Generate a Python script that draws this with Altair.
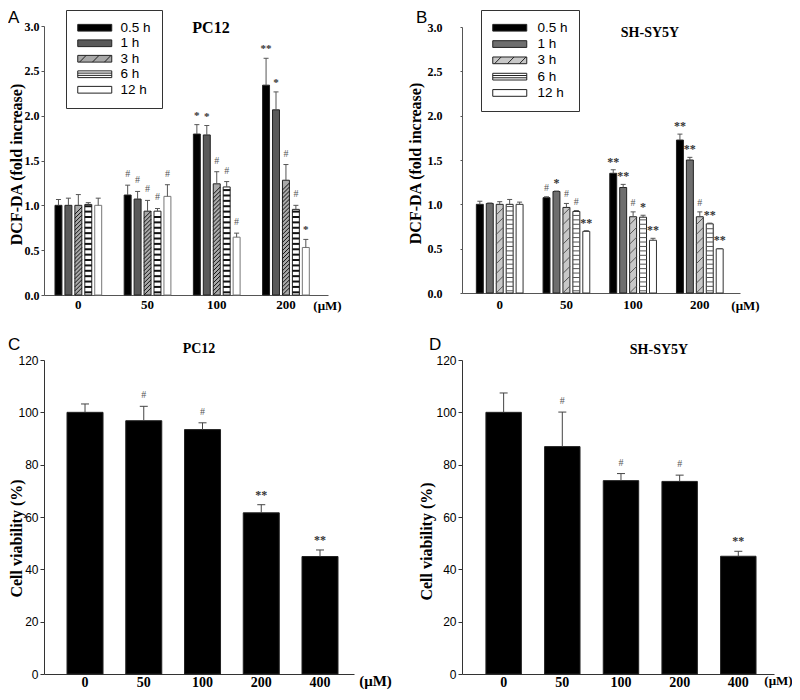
import altair as alt
import pandas as pd

# ---------------- data ----------------
times = ["0.5 h", "1 h", "3 h", "6 h", "12 h"]
ros_doses = ["0", "50", "100", "200"]
via_doses = ["0", "50", "100", "200", "400"]

# Panel A: PC12, DCF-DA fold increase (one row per dose, columns in `times` order)
pc12_ros_mean = [
    [1.00, 1.00, 1.00, 1.01, 1.00],
    [1.115, 1.07, 0.935, 0.935, 1.10],
    [1.795, 1.785, 1.24, 1.205, 0.645],
    [2.34, 2.065, 1.28, 0.955, 0.53],
]
pc12_ros_err = [
    [0.065, 0.08, 0.12, 0.02, 0.08],
    [0.11, 0.085, 0.12, 0.03, 0.13],
    [0.105, 0.105, 0.135, 0.06, 0.045],
    [0.30, 0.20, 0.175, 0.045, 0.09],
]
pc12_ros_sig = [
    ["", "", "", "", ""],
    ["#", "#", "#", "#", "#"],
    ["*", "*", "#", "#", "#"],
    ["**", "*", "#", "#", "*"],
]

# Panel B: SH-SY5Y, DCF-DA fold increase
sh_ros_mean = [
    [1.00, 1.01, 1.00, 1.00, 1.00],
    [1.075, 1.145, 0.965, 0.92, 0.695],
    [1.35, 1.19, 0.86, 0.855, 0.595],
    [1.725, 1.50, 0.86, 0.78, 0.498],
]
sh_ros_err = [
    [0.035, 0.005, 0.03, 0.055, 0.025],
    [0.01, 0.005, 0.045, 0.01, 0.008],
    [0.04, 0.035, 0.055, 0.022, 0.022],
    [0.067, 0.03, 0.055, 0.008, 0.004],
]
sh_ros_sig = [
    ["", "", "", "", ""],
    ["#", "*", "#", "#", "**"],
    ["**", "**", "#", "*", "**"],
    ["**", "**", "#", "**", "**"],
]

# Panels C / D: cell viability (%)
pc12_via_mean = [100, 96.8, 93.4, 61.6, 44.9]
pc12_via_err = [3.2, 5.5, 2.6, 3.1, 2.5]
pc12_via_sig = ["", "#", "#", "**", "**"]
sh_via_mean = [100, 86.9, 73.9, 73.6, 45.0]
sh_via_err = [7.4, 13.2, 2.7, 2.4, 1.9]
sh_via_sig = ["", "#", "#", "#", "**"]

SERIF = "Liberation Serif"
SANS = "Liberation Sans"
NARROW = "'Liberation Sans Narrow', 'Liberation Sans', sans-serif"


def ros_frame(mean, err, sig):
    rows = []
    for i, d in enumerate(ros_doses):
        for j, t in enumerate(times):
            rows.append(dict(dose=d, time=t, value=mean[i][j],
                             top=mean[i][j] + err[i][j], sig=sig[i][j]))
    return pd.DataFrame(rows)


def via_frame(mean, err, sig):
    return pd.DataFrame(dict(dose=via_doses, value=mean,
                             top=[m + e for m, e in zip(mean, err)], sig=sig))


def text_item(txt, x, y, font, size, weight="normal", baseline="top", align="left"):
    return alt.Chart(pd.DataFrame({"t": [txt]})).mark_text(
        font=font, fontSize=size, fontWeight=weight, align=align,
        baseline=baseline, color="black"
    ).encode(x=alt.value(x), y=alt.value(y), text="t:N")


# legend swatch paths (symbol size 144 -> unit = 6 px; swatch 34 x 6.7 px)
RECT = "M-1,-0.56H4.667V0.56H-1Z"
shape_paths = [
    RECT,
    RECT,
    RECT + "M-0.7,0.56L0.4,-0.56M1.45,0.56L2.55,-0.56M3.45,0.56L4.55,-0.56",
    RECT + "M-1,-0.19H4.667M-1,0.19H4.667",
    RECT,
]


def ros_panel(df, P):
    X = alt.X(
        "dose:N",
        scale=alt.Scale(domain=ros_doses, range=[0, P["xw"]], paddingInner=P["pi"],
                        paddingOuter=P["po"], align=P["al"]),
        axis=alt.Axis(labelAngle=0, ticks=False, tickSize=0, labelPadding=P["xlp"],
                      labelFont=SERIF, labelFontWeight="bold", labelFontSize=13,
                      labelColor="black", domainColor="#555", offset=P["xoff"],
                      titleX=283, titleY=P["mty"], titleAlign="center",
                      titleBaseline="middle", titleFont=SERIF, titleFontWeight="bold",
                      titleFontSize=13, titleColor="black"),
        title="(μM)",
    )
    XO = alt.XOffset("time:N", scale=alt.Scale(domain=times, paddingInner=0.3, paddingOuter=0))
    yscale = alt.Scale(domain=[0, 3], range=P["yr"], nice=False)
    yaxis = alt.Axis(values=[0, 0.5, 1.0, 1.5, 2.0, 2.5, 3.0], format=".1f", grid=False,
                     labelFont=SERIF, labelFontWeight="bold", labelFontSize=12,
                     labelColor="black", tickSize=P["ytick"], tickColor="#555",
                     domainColor="#555", labelPadding=P["ylp"],
                     titleFont=SERIF, titleFontWeight="bold", titleFontSize=16,
                     titleColor="black", titleX=P["tx"], titleY=P["ty"], titleAngle=270,
                     titleAlign="center", titleBaseline="middle")

    def Y(f):
        return alt.Y(f, scale=yscale, axis=yaxis, title="DCF-DA (fold increase)", stack=None)

    # bars: colour scale with reversed domain (same mapping) and no legend
    bar_scale = alt.Scale(domain=times[::-1], range=P["fills"][::-1])
    fill_scale = alt.Scale(domain=times, range=P["fills"])
    shape_scale = alt.Scale(domain=times, range=shape_paths)
    outline_scale = alt.Scale(domain=times, range=["#222222"] * 5)
    leg = dict(title=None, orient="none", legendX=P["lx"], legendY=P["ly"], padding=11,
               strokeColor="#333", fillColor="white", symbolSize=144,
               symbolStrokeWidth=1, symbolOpacity=1,
               labelFont=SANS, labelFontSize=13.5, labelColor="black",
               labelOffset=P["lo"], rowPadding=P["rp"], cornerRadius=0)

    base = alt.Chart(df)
    bars = base.mark_bar(opacity=1, strokeWidth=1).encode(
        x=X, xOffset=XO, y=Y("value:Q"),
        color=alt.Color("time:N", scale=bar_scale, legend=None),
        stroke=alt.condition("datum.time == '12 h'", alt.value(P["s12"]), alt.value("#222")),
    )
    hatch = base.transform_filter("datum.time == '3 h'").transform_calculate(
        s="sequence(0.04, datum.value - 0.035, %s)" % P["hp"]
    ).transform_flatten(["s"]).mark_point(
        shape="M-1,1L1,-1", size=49, filled=False, stroke=P["hc"], strokeWidth=1, opacity=1
    ).encode(x=X, xOffset=XO, y=Y("s:Q"))
    stripes = base.transform_filter("datum.time == '6 h'").transform_calculate(
        s="sequence(%s, datum.value - 0.012, %s)" % (P["sp"] / 2, P["sp"])
    ).transform_flatten(["s"]).mark_tick(
        orient="horizontal", size=7, thickness=P["st"], color=P["sc"], opacity=1
    ).encode(x=X, xOffset=XO, y=Y("s:Q"))
    err = base.mark_rule(color="#555", strokeWidth=1).encode(
        x=X, xOffset=XO, y=Y("value:Q"), y2="top:Q")
    cap = base.mark_tick(orient="horizontal", size=5, thickness=1, color="#555", opacity=1).encode(
        x=X, xOffset=XO, y=Y("top:Q"))
    hashes = base.transform_filter("datum.sig == '#'").mark_text(
        font=SERIF, fontSize=10, color="#555", baseline="bottom", dy=P["hdy"]
    ).encode(x=X, xOffset=XO, y=Y("top:Q"), text="sig:N")
    stars = base.transform_filter("indexof(datum.sig, '*') >= 0").mark_text(
        font=SERIF, fontSize=P["sfs"], fontWeight="bold", color="#333", baseline="bottom",
        dy=P["sdy"]
    ).encode(x=X, xOffset=XO, y=Y("top:Q"), text="sig:N")
    legend_pts = base.transform_filter("false").mark_point(
        filled=True, opacity=1, size=144, strokeWidth=1
    ).encode(
        x=X, xOffset=XO, y=Y("value:Q"),
        fill=alt.Fill("time:N", scale=fill_scale, legend=alt.Legend(**leg)),
        shape=alt.Shape("time:N", scale=shape_scale, legend=alt.Legend(**leg)),
        stroke=alt.Stroke("time:N", scale=outline_scale, legend=alt.Legend(**leg)),
    )
    letter = text_item(P["letter"], P["ltx"], -16, SANS, 17)
    title = text_item(P["title"], P["ttx"], P["tty"], SERIF, P["tfs"], "bold",
                      baseline="middle", align="center")
    return alt.layer(bars, hatch, stripes, err, cap, hashes, stars, legend_pts,
                     letter, title).properties(width=P["w"], height=P["h"])


def via_panel(df, P):
    X = alt.X(
        "dose:N",
        scale=alt.Scale(domain=via_doses, range=[0, P["xw"]], paddingInner=P["pi"],
                        paddingOuter=P["po"], align=P["al"]),
        axis=alt.Axis(labelAngle=0, ticks=False, tickSize=0, labelPadding=1,
                      labelFont=SERIF, labelFontWeight="bold", labelFontSize=14,
                      labelColor="black", domainColor="#333",
                      titleX=P["mtx"], titleY=6, titleAlign="center",
                      titleBaseline="middle", titleFont=SERIF, titleFontWeight="bold",
                      titleFontSize=P["mfs"], titleColor="black"),
        title="(μM)",
    )
    yscale = alt.Scale(domain=[0, 120], nice=False)
    yaxis = alt.Axis(values=[0, 20, 40, 60, 80, 100, 120], grid=False,
                     labelFont=NARROW, labelFontSize=12, labelColor="black",
                     tickSize=4, tickColor="#333", domainColor="#333", labelPadding=2,
                     titleFont=SERIF, titleFontWeight="bold", titleFontSize=16,
                     titleColor="black", titleX=P["tx"], titleY=P["ty"], titleAngle=270,
                     titleAlign="center", titleBaseline="middle")

    def Y(f):
        return alt.Y(f, scale=yscale, axis=yaxis, title="Cell viability (%)")

    base = alt.Chart(df)
    bars = base.mark_bar(color="black", stroke="#222", strokeWidth=1, opacity=1).encode(
        x=X, y=Y("value:Q"))
    err = base.mark_rule(color="#444", strokeWidth=1).encode(x=X, y=Y("value:Q"), y2="top:Q")
    cap = base.mark_tick(orient="horizontal", size=8, thickness=1, color="#444", opacity=1).encode(
        x=X, y=Y("top:Q"))
    hashes = base.transform_filter("datum.sig == '#'").mark_text(
        font=SERIF, fontSize=10, color="#555", baseline="bottom", dy=-6
    ).encode(x=X, y=Y("top:Q"), text="sig:N")
    stars = base.transform_filter("indexof(datum.sig, '*') >= 0").mark_text(
        font=SERIF, fontSize=12, fontWeight="bold", color="#333", baseline="bottom", dy=-3
    ).encode(x=X, y=Y("top:Q"), text="sig:N")
    letter = text_item(P["letter"], P["ltx"], -23, SANS, 17)
    title = text_item(P["title"], P["ttx"], P["tty"], SERIF, 14, "bold",
                      baseline="middle", align="center")
    return alt.layer(bars, err, cap, hashes, stars, letter, title).properties(
        width=P["w"], height=P["h"])


panel_a = ros_panel(ros_frame(pc12_ros_mean, pc12_ros_err, pc12_ros_sig), dict(
    w=358, h=269, xw=284, pi=0.325, po=0.2145, al=0.37, yr=[269, 0], xoff=0,
    xlp=3, mty=10, ytick=3, ylp=2, tx=-28, ty=138,
    fills=["#000000", "#5a5a5a", "#a8a8a8", "#ffffff", "#ffffff"], s12="#777777",
    hp=0.045, hc="#111111", sp=0.06, st=2, sc="#111111",
    hdy=-6, sfs=11, sdy=-4, lx=22, ly=-16, lo=30, rp=0.5,
    letter="A", ltx=-36, title="PC12", ttx=167, tty=1.5, tfs=16,
))
panel_b = ros_panel(ros_frame(sh_ros_mean, sh_ros_err, sh_ros_sig), dict(
    w=278, h=269, xw=278, pi=0.30, po=0.234, al=0.46, yr=[267, 1], xoff=-2,
    xlp=5, mty=12, ytick=2, ylp=18, tx=-47, ty=137,
    fills=["#000000", "#6e6e6e", "#c8c8c8", "#ffffff", "#ffffff"], s12="#333333",
    hp=0.11, hc="#555555", sp=0.05, st=1, sc="#555555",
    hdy=-4, sfs=12, sdy=-1, lx=19, ly=-16, lo=32, rp=1.3,
    letter="B", ltx=-46, title="SH-SY5Y", ttx=188, tty=7, tfs=14,
))
panel_c = via_panel(via_frame(pc12_via_mean, pc12_via_err, pc12_via_sig), dict(
    w=349, h=314, xw=310, pi=0.387, po=0.332, al=0.59, mtx=331, mfs=15, tx=-28, ty=178,
    letter="C", ltx=-36, title="PC12", ttx=155, tty=-11,
))
panel_d = via_panel(via_frame(sh_via_mean, sh_via_err, sh_via_sig), dict(
    w=312, h=314, xw=312, pi=0.396, po=0.357, al=0.571, mtx=316, mfs=13, tx=-36, ty=181,
    letter="D", ltx=-33, title="SH-SY5Y", ttx=197, tty=-10,
))

chart = alt.concat(
    panel_a, panel_b, panel_c, panel_d, columns=2,
    spacing={"row": 65, "column": 60}, bounds="flush", align="none",
).properties(
    autosize=alt.AutoSizeParams(type="none"),
    padding={"left": 36, "top": 18, "right": 748, "bottom": 666},
).resolve_scale(
    color="independent", fill="independent", shape="independent", stroke="independent"
).resolve_legend(
    color="independent", fill="independent", shape="independent", stroke="independent"
).configure_view(stroke=None)

chart.save("out.html", embed_options={"renderer": "svg", "actions": False})
